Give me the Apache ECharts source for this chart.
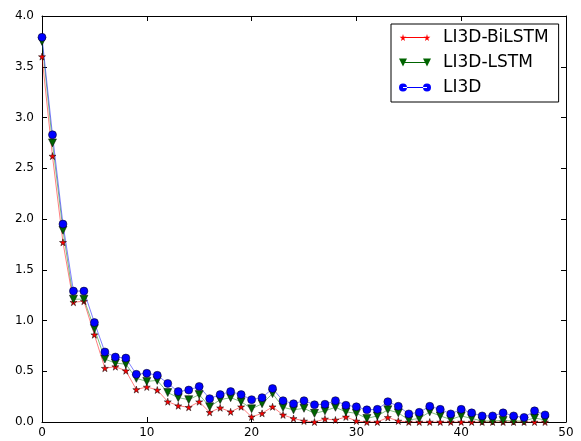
<!DOCTYPE html>
<html><head><meta charset="utf-8">
<script src="https://cdn.jsdelivr.net/npm/echarts@6/dist/echarts.min.js"></script>
<style>html,body{margin:0;padding:0;background:#fff}#c{width:581px;height:441px}</style>
</head><body><div id="c"></div>
<script>
const xs = [0,1,2,3,4,5,6,7,8,9,10,11,12,13,14,15,16,17,18,19,20,21,22,23,24,25,26,27,28,29,30,31,32,33,34,35,36,37,38,39,40,41,42,43,44,45,46,47,48];
const bilstm = [3.6,2.62,1.77,1.18,1.19,0.86,0.53,0.545,0.505,0.32,0.345,0.315,0.2,0.16,0.145,0.2,0.095,0.14,0.1,0.15,0.05,0.085,0.15,0.07,0.035,0.01,0.0,0.03,0.02,0.05,0.01,0.0,0.0,0.045,0.01,0.0,0.0,0.0,0.0,0.0,0.0,0.0,0.0,0.0,0.0,0.0,0.0,0.0,0.0];
const lstm = [3.75,2.75,1.89,1.21,1.21,0.92,0.62,0.58,0.57,0.43,0.4,0.41,0.29,0.24,0.22,0.27,0.15,0.22,0.24,0.2,0.13,0.18,0.28,0.145,0.12,0.135,0.085,0.11,0.145,0.1,0.085,0.035,0.06,0.12,0.09,0.02,0.035,0.1,0.06,0.025,0.06,0.035,0.01,0.01,0.015,0.01,0.01,0.04,0.02];
const li3d = [3.79,2.83,1.95,1.29,1.29,0.98,0.69,0.64,0.63,0.47,0.48,0.46,0.38,0.3,0.315,0.35,0.23,0.27,0.3,0.27,0.22,0.24,0.33,0.21,0.18,0.21,0.17,0.175,0.21,0.165,0.15,0.12,0.125,0.2,0.155,0.08,0.095,0.155,0.125,0.08,0.125,0.09,0.06,0.06,0.09,0.06,0.045,0.11,0.07];
const names = ['LI3D-BiLSTM','LI3D-LSTM','LI3D'];
const STAR = 'path://M50,0 L61,35 L98,35 L68,57 L79,91 L50,70 L21,91 L32,57 L2,35 L39,35 Z';
// legend icons: marker at both ends joined by a thin line (box 32 x 8)
function starAt(dx){
  const p=[[50,0],[61,35],[98,35],[68,57],[79,91],[50,70],[21,91],[32,57],[2,35],[39,35]];
  return 'M'+p.map(q=>(dx+0.5+q[0]*0.07).toFixed(2)+','+(0.5+q[1]*0.077).toFixed(2)).join(' L')+' Z ';
}
const LINE_BAR = 'M4,3.6 L28,3.6 L28,4.4 L4,4.4 Z ';
const FRAME = 'M0,0 L0.01,0 L0.01,0.01 Z M32,8 L31.99,8 L31.99,7.99 Z ';
const ICON_STAR = 'path://'+FRAME+starAt(0)+starAt(24)+LINE_BAR;
const ICON_TRI = 'path://M0,0 L8,0 L4,8 Z M24,0 L32,0 L28,8 Z '+LINE_BAR;
const ICON_CIRC = 'path://M0,4 A4,4 0 1,0 8,4 A4,4 0 1,0 0,4 Z M24,4 A4,4 0 1,0 32,4 A4,4 0 1,0 24,4 Z '+LINE_BAR;
const font = 'DejaVu Sans';
function pairs(v){return xs.map((x,i)=>[x,v[i]]);}
const chart = echarts.init(document.getElementById('c'));
const axBase = {
  axisLine:{show:true,onZero:false,lineStyle:{color:'#000',width:1}},
  axisTick:{show:true,inside:true,length:5,lineStyle:{color:'#000'}},
  splitLine:{show:false},
  axisLabel:{color:'#000',fontFamily:font,fontSize:12}
};
chart.setOption({
  animation:false,
  grid:{left:42,right:15,top:16,bottom:19},
  xAxis:[
    Object.assign({type:'value',min:0,max:50,interval:10,position:'bottom'},axBase,{axisLabel:{color:'#000',fontFamily:font,fontSize:12,margin:5}}),
    Object.assign({type:'value',min:0,max:50,interval:10,position:'top'},axBase,{axisLabel:{show:false}})
  ],
  yAxis:[
    Object.assign({type:'value',min:0,max:4,interval:0.5,position:'left'},axBase,{axisLabel:{color:'#000',fontFamily:font,fontSize:12,margin:8,formatter:v=>v.toFixed(1)}}),
    Object.assign({type:'value',min:0,max:4,interval:0.5,position:'right'},axBase,{axisLabel:{show:false}})
  ],
  legend:{
    left:391,top:24,orient:'vertical',
    padding:[5,10,6,8],itemGap:8,itemWidth:32,itemHeight:8,
    borderColor:'#000',borderWidth:1,backgroundColor:'#fff',borderRadius:0,
    itemStyle:{borderWidth:0},
    textStyle:{fontFamily:font,fontSize:17,color:'#000',padding:[0,0,0,7]},
    data:[{name:names[0],icon:ICON_STAR},{name:names[1],icon:ICON_TRI},{name:names[2],icon:ICON_CIRC}]
  },
  series:[
    {name:names[0],type:'line',data:pairs(bilstm),symbol:STAR,symbolSize:7,
     itemStyle:{color:'#ff0000',borderColor:'#000',borderWidth:0.5},
     lineStyle:{color:'rgba(255,0,0,0.5)',width:1}},
    {name:names[1],type:'line',data:pairs(lstm),symbol:'triangle',symbolRotate:180,symbolSize:8,
     itemStyle:{color:'#006400',borderColor:'#000',borderWidth:0.5},
     lineStyle:{color:'rgba(0,128,0,0.5)',width:1}},
    {name:names[2],type:'line',data:pairs(li3d),symbol:'circle',symbolSize:8,
     itemStyle:{color:'#0000ff',borderColor:'#000',borderWidth:0.5},
     lineStyle:{color:'rgba(0,0,255,0.5)',width:1}}
  ]
});
</script></body></html>
